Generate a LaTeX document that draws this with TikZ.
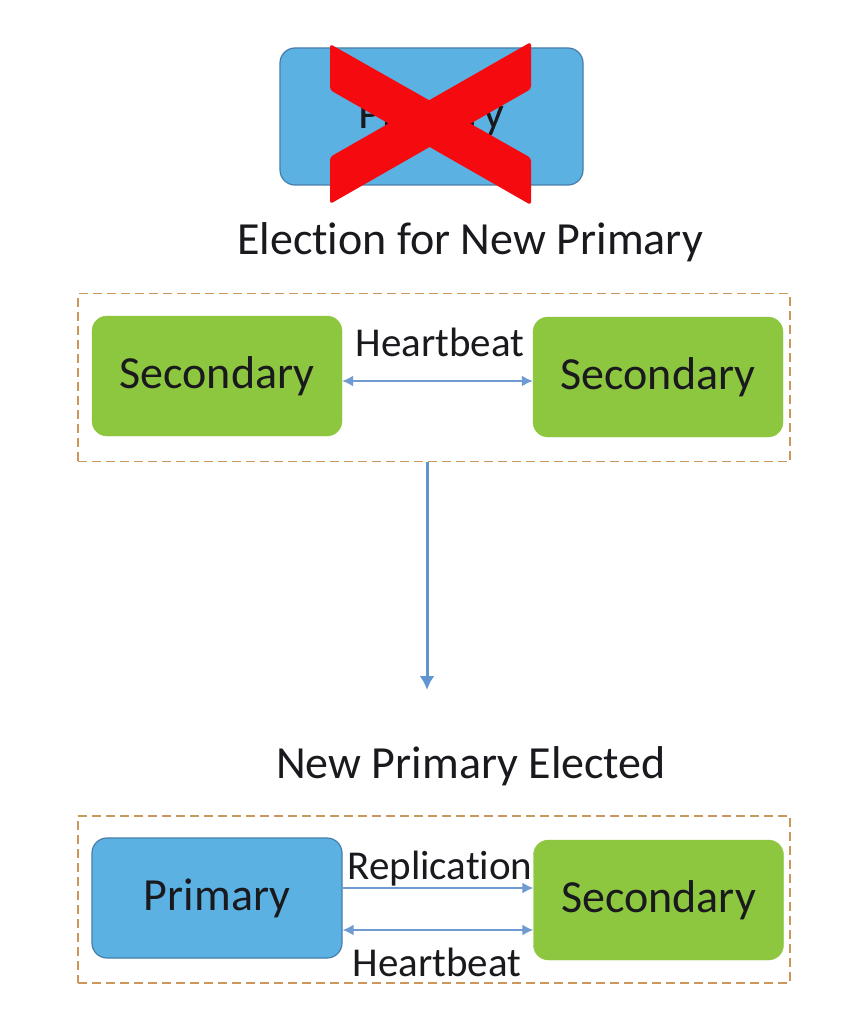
\documentclass[tikz,border=0pt]{standalone}
\usepackage{fontspec}
\setmainfont{Carlito}[Ligatures=NoCommon]
\usetikzlibrary{arrows.meta}
\definecolor{pblue}{RGB}{91,178,226}
\definecolor{pborder}{RGB}{70,125,170}
\definecolor{sgreen}{RGB}{141,198,63}
\definecolor{dashc}{RGB}{205,150,90}
\definecolor{arrc}{RGB}{112,155,210}
\definecolor{varrc}{RGB}{95,150,210}
\definecolor{xred}{RGB}{245,10,15}
\definecolor{txt}{RGB}{25,25,30}
\tikzset{
  bigtext/.style={font=\fontsize{46}{50}\selectfont, text=txt},
  labtext/.style={font=\fontsize{41}{45}\selectfont, text=txt, inner sep=0pt},
  primbox/.style={draw=pborder, line width=1.2pt, fill=pblue, rounded corners=15pt, minimum width=250pt, minimum height=120pt, bigtext},
  secbox/.style={draw=sgreen, fill=sgreen, rounded corners=15pt, minimum width=250pt, minimum height=120pt, bigtext},
  groupbox/.style={draw=dashc, dash pattern=on 9pt off 5pt, line width=1.3pt, minimum width=712pt, minimum height=168pt},
  thinarrow/.style={draw=arrc, line width=1.8pt, -{Latex[length=11pt,width=11pt]}},
  thindouble/.style={draw=arrc, line width=1.8pt, {Latex[length=11pt,width=11pt]}-{Latex[length=11pt,width=11pt]}},
}
\begin{document}
\begin{tikzpicture}[x=1pt, y=-1pt]
\useasboundingbox[fill=white] (0,0) rectangle (850,1024);

% top failed primary
\node[primbox, minimum width=303pt, minimum height=137pt] (oldp) at (431.5,116.5) {Primary};
\fill[xred, rounded corners=3pt] (330,44) -- (531,158) -- (531,205) -- (330,90) -- cycle;
\fill[xred, rounded corners=3pt] (531,42) -- (531,89) -- (330,204) -- (330,157) -- cycle;

\node[bigtext, anchor=base, inner sep=0pt] (elect) at (470,254) {Election for New Primary};

% first group
\node[groupbox] (g1) at (434,377.5) {};
\node[secbox] (s1) at (217,376) {Secondary};
\node[secbox] (s2) at (658,377) {Secondary};
\node[labtext, anchor=base] (hb1) at (440,356) {Heartbeat};
\draw[thindouble] (s1.east |- 0,381) -- (s2.west |- 0,381);

% transition arrow
\coordinate (arrend) at (427,690);
\draw[draw=varrc, line width=3pt, -{Latex[length=14pt,width=15pt]}] (g1.south -| arrend) -- (arrend);

\node[bigtext, anchor=base, inner sep=0pt] (newp) at (471,778) {New Primary Elected};

% second group
\node[groupbox, minimum height=167pt] (g2) at (434,899.5) {};
\node[primbox] (p) at (217,898) {Primary};
\node[secbox] (s3) at (658.5,900) {Secondary};
\node[labtext, anchor=base] (rep) at (440,879) {Replication};
\draw[thinarrow] (p.east |- 0,888) -- (s3.west |- 0,888);
\draw[thindouble] (p.east |- 0,930) -- (s3.west |- 0,930);
\node[labtext, anchor=base] (hb2) at (437,976) {Heartbeat};
\end{tikzpicture}
\end{document}
